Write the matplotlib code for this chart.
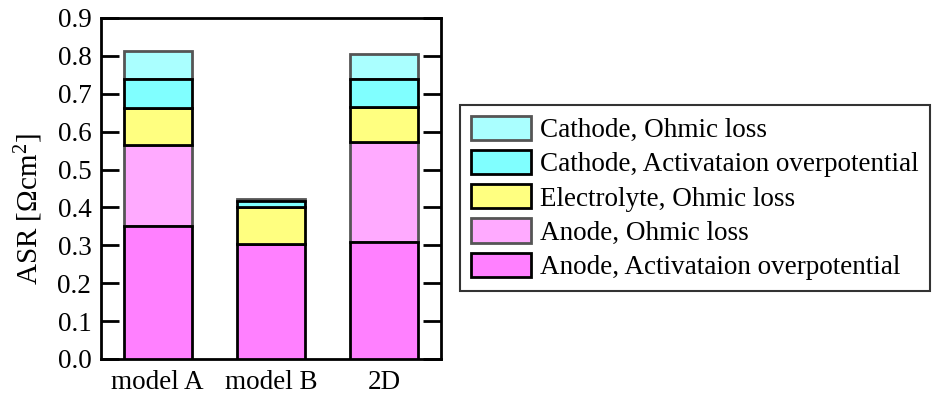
import matplotlib.pyplot as plt

plt.rcParams['font.family'] = ['Liberation Serif', 'DejaVu Serif']
plt.rcParams['mathtext.fontset'] = 'custom'
plt.rcParams['mathtext.rm'] = 'Liberation Serif'
plt.rcParams['mathtext.it'] = 'Liberation Serif:italic'

# ASR contributions per model, stacked bottom to top
models = ['model A', 'model B', '2D']
anode_act = [0.350, 0.303, 0.308]
anode_ohm = [0.215, 0.0, 0.265]
electrolyte_ohm = [0.098, 0.098, 0.091]
cathode_act = [0.075, 0.017, 0.074]
cathode_ohm = [0.075, 0.003, 0.068]

layers = [
    (anode_act, '#FF80FF', 'black', 'Anode, Activataion overpotential'),
    (anode_ohm, '#FFAAFF', '#555555', 'Anode, Ohmic loss'),
    (electrolyte_ohm, '#FFFF80', 'black', 'Electrolyte, Ohmic loss'),
    (cathode_act, '#80FFFF', 'black', 'Cathode, Activataion overpotential'),
    (cathode_ohm, '#AAFFFF', '#555555', 'Cathode, Ohmic loss'),
]

fs = 19.5

fig = plt.figure(figsize=(9.35, 4), dpi=100)
ax = fig.add_axes([0.108, 0.1025, 0.3637, 0.8525])

x = range(len(models))
bottom = [0.0] * len(models)
handles = []
for vals, fc, ec, label in layers:
    # black-edged layers sit on top so their outlines win at shared edges
    z = 3 if ec == 'black' else 2
    h = ax.bar(x, vals, width=0.6, bottom=bottom, color=fc, edgecolor=ec,
               linewidth=2, label=label, zorder=z)
    handles.append(h)
    bottom = [b + v for b, v in zip(bottom, vals)]

ax.set_xlim(-0.5, 2.5)
ax.set_ylim(0, 0.9)
ax.set_yticks([i / 10 for i in range(10)])
ax.set_yticklabels([f'{i / 10:.1f}' for i in range(10)])
ax.set_xticks(list(x))
ax.set_xticklabels(models)
ax.tick_params(axis='y', direction='in', length=13, width=2, right=True,
               labelsize=fs, pad=7)
ax.tick_params(axis='x', length=0, labelsize=fs, pad=8)
for s in ax.spines.values():
    s.set_linewidth(2)
ax.set_ylabel('ASR [Ω$\\mathrm{cm}^2$]', fontsize=21)
ax.yaxis.set_label_coords(-0.165, 0.44)

leg = fig.legend(handles[::-1], [l[3] for l in layers][::-1],
                 loc='upper left', bbox_to_anchor=(0.4925, 0.7375),
                 fontsize=fs, frameon=True, fancybox=False, edgecolor='black',
                 handlelength=2.2, handleheight=1.0, handletextpad=0.35,
                 labelspacing=0.25, borderpad=0.4, borderaxespad=0)
leg.get_frame().set_linewidth(1.5)

fig.savefig('out.png', dpi=100)
